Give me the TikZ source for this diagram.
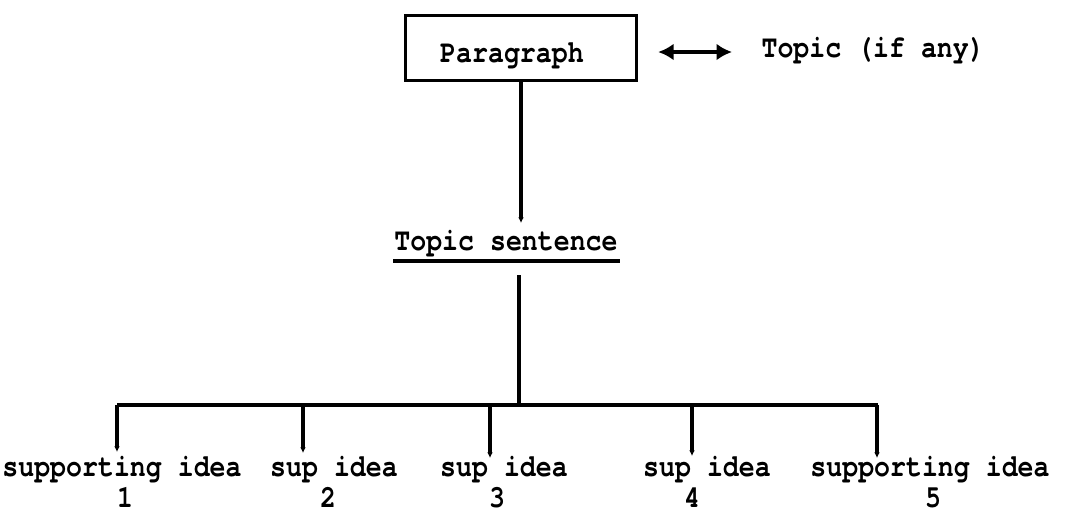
\documentclass[tikz,border=0pt]{standalone}
\usepackage{fontspec}
\setmainfont{TeX Gyre Cursor}[UprightFont=*-Bold, FakeStretch=0.84]
\usetikzlibrary{arrows.meta}
\tikzset{every path/.style={line width=2.2pt}}
\tikzset{lbl/.style={font=\fontsize{22.5}{26}\selectfont, inner sep=0pt, anchor=base}}

\begin{document}
\begin{tikzpicture}[x=0.025cm,y=-0.025cm]
\useasboundingbox (0,0) rectangle (1072,515);
\node[draw, minimum width=5.78cm, minimum height=1.62cm, inner sep=0pt] (par) at (521,48) {};
\node[lbl] (partxt) at (512,62) {Paragraph};
\node[lbl, anchor=base west] (topic) at (760,57) {Topic (if any)};
\draw[{Latex[length=11pt,width=12pt]}-{Latex[length=11pt,width=12pt]}, shorten <=0.5cm, shorten >=0.7cm] (par.east |- 0,52) -- (topic.west |- 0,52);
\coordinate (t1) at (521,223);
\draw[-{Latex[length=4pt,width=4pt]}] (par.south) -- (t1);
\node[lbl] (ts) at (506,250) {Topic sentence};
\coordinate (u1) at (393,261);
\coordinate (u2) at (620,261);
\draw (u1) -- (u2);
\coordinate (t2) at (519,275);
\coordinate (j) at (519,405);
\draw (t2) -- (j);
\coordinate (hl) at (117,405);
\coordinate (hr) at (878,405);
\draw (hl) -- (hr);
% branches
\foreach \i/\bx/\by in {1/117/452, 2/303/453, 3/490/458, 4/692/456, 5/877/458}{
  \coordinate (b\i) at (\bx,405);
  \coordinate (e\i) at (\bx,\by);
  \draw[-{Latex[length=4pt,width=4pt]}] (b\i) -- (e\i);
}
% ideas
\foreach \i/\lx/\nx/\txt in {1/122/125/supporting idea, 2/334/328/sup idea, 3/504/497/sup idea, 4/707/692/sup idea, 5/930/933/supporting idea}{
  \node[lbl] (s\i) at (\lx,476) {\txt};
  \node[lbl] (n\i) at (\nx,507) {\i};
}
\end{tikzpicture}
\end{document}
